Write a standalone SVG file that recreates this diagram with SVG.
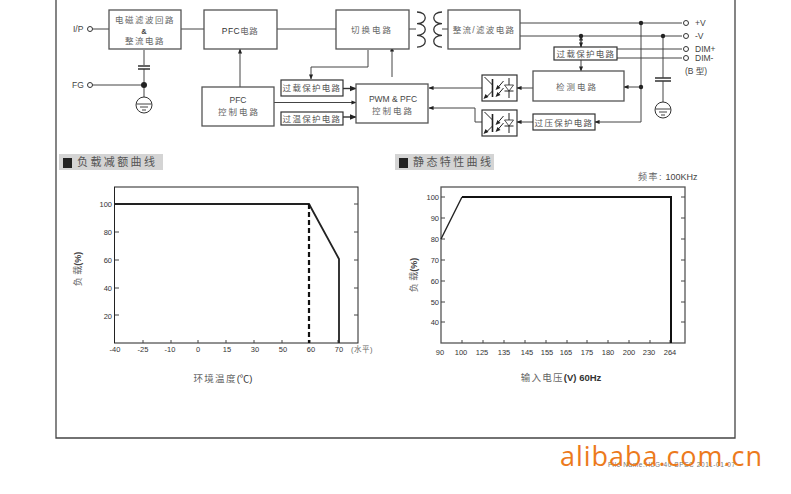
<svg xmlns="http://www.w3.org/2000/svg" width="791" height="494" viewBox="0 0 791 494">
<style>
text{font-family:"Liberation Sans","Noto Sans CJK SC",sans-serif;fill:#444;font-size:8.5px}
.c{text-anchor:middle}
.z{font-size:8.5px;letter-spacing:2px;fill:#666}
.s{font-size:8.500px;letter-spacing:1.300px;fill:#555}
.b{fill:#fff;stroke:#555;stroke-width:1.300}
.p{fill:#fff;stroke:#333;stroke-width:1.200}
.l{fill:none;stroke:#444;stroke-width:1}
.m{fill:none;stroke:#333;stroke-width:1.400}
.o{fill:#fff;stroke:#333;stroke-width:1}
.d{fill:#222}
.t text{font-size:7.500px;fill:#333;text-anchor:middle}
.y text{font-size:7.500px;fill:#333;text-anchor:end}
.h{font-size:11px;letter-spacing:2.400px;fill:#555}
.hb{fill:#d4d4d4}
.coil{fill:none;stroke:#333;stroke-width:1.300}
</style>
<defs>
<marker id="a" viewBox="0 0 6 6" refX="5.500" refY="3" markerWidth="5" markerHeight="5" orient="auto"><path d="M0 .5L6 3L0 5.500Z" fill="#222"/></marker>
<g id="gnd"><circle r="8" fill="#fff" stroke="#333"/><path d="M-7.500-1H7.500M-4 2H4M-2 5H2" class="l"/></g>
<g id="opto"><rect x="-17.500" y="-13" width="35" height="26" class="p"/>
<path d="M-7-9V9" fill="none" stroke="#222" stroke-width="1.600"/>
<path d="M-15-11L-7-3M-7 3L-14 10M4-7L-2 0M4 0L-2 7M9.500-10V10M5 3H14" fill="none" stroke="#222" stroke-width="1"/>
<path d="M5-3H14L9.500 3Z" fill="#fff" stroke="#222" stroke-width=".8"/>
<path d="M-16 11L-14 6L-11 9ZM-4 2L-2-3L1 0ZM-4 9L-2 4L1 7Z" fill="#222"/></g>
</defs>
<rect width="791" height="494" fill="#fff"/>
<path d="M56 0V438H735V0" fill="none" stroke="#444" stroke-width="1.300"/>
<g id="connectors">
<path class="l" d="M92 29H109M181 29H204M277 29H336M409 29H416M442 29H448"/>
<path class="l" d="M92 85H144M144 50V65M144 69V97"/>
<path class="m" d="M138 66H150M138 69H150M655 78H671M655 81H671"/>
<path class="l" d="M240 87V49" marker-end="url(#a)"/>
<path class="l" d="M368 50V67H311V79" marker-end="url(#a)"/>
<path class="l" d="M392 77V47" marker-end="url(#a)"/>
<path class="m" d="M343 88.500H356" marker-end="url(#a)"/>
<path class="m" d="M343 117H356" marker-end="url(#a)"/>
<path class="l" d="M274 102.500H356" marker-end="url(#a)"/>
<path class="l" d="M520 23H682M520 36H682M641 23V122M663 36V78M663 81V102M617 49H682M617 58H682"/>
<path class="l" d="M581 47V36" marker-end="url(#a)"/>
<path class="l" d="M581 36V47" marker-end="url(#a)"/>
<path class="l" d="M581 60V71" marker-end="url(#a)"/>
<path class="l" d="M641 87H624" marker-end="url(#a)"/>
<path class="l" d="M533 88H517" marker-end="url(#a)"/>
<path class="l" d="M482 88H429" marker-end="url(#a)"/>
<path class="l" d="M533 122H517" marker-end="url(#a)"/>
<path class="l" d="M641 122H595" marker-end="url(#a)"/>
<path class="l" d="M482 122H475V108H429" marker-end="url(#a)"/>
<path class="coil" d="M417 12c11 0 11 11.700 0 11.700c11 0 11 11.700 0 11.700c11 0 11 11.700 0 11.700"/>
<path class="coil" d="M442 12c-11 0-11 11.700 0 11.700c-11 0-11 11.700 0 11.700c-11 0-11 11.700 0 11.700"/>
<g class="d"><circle cx="144" cy="85" r="3"/><circle cx="581" cy="36" r="2.200"/><circle cx="641" cy="23" r="2.200"/><circle cx="641" cy="87" r="2.200"/><circle cx="663" cy="36" r="2.200"/></g>
<use href="#gnd" x="144" y="105"/><use href="#gnd" x="663" y="110"/>
</g>
<g id="ports">
<g class="o"><circle cx="90" cy="29" r="2.500"/><circle cx="90" cy="85" r="2.500"/><circle cx="686" cy="23" r="2.500"/><circle cx="686" cy="36" r="2.500"/><circle cx="686" cy="49" r="2.500"/><circle cx="686" cy="58" r="2.500"/></g>
<text x="73" y="32">I/P</text><text x="72" y="88">FG</text>
<text x="695" y="26">+V</text><text x="695" y="39">-V</text><text x="695" y="52">DIM+</text><text x="695" y="61">DIM-</text><text x="685" y="74">(B 型)</text>
</g>
<g id="n1"><rect class="b" x="109" y="10" width="72" height="39"/><text class="c z" x="145" y="23" style="letter-spacing:1.500px">电磁滤波回路</text><text class="c" x="144" y="34" style="font-weight:bold;font-size:7.500px">&amp;</text><text class="c z" x="145" y="44" style="letter-spacing:1.500px">整流电路</text></g>
<g id="n2"><rect class="b" x="204" y="10" width="73" height="39"/><text class="c z" x="240" y="34" style="letter-spacing:.5px"><tspan style="fill:#333">PFC</tspan>电路</text></g>
<g id="n3"><rect class="b" x="336" y="10" width="73" height="39"/><text class="c z" x="372" y="33">切换电路</text></g>
<g id="n4"><rect class="b" x="448" y="10" width="72" height="39"/><text class="c z" x="484" y="33" style="letter-spacing:1.300px">整流/滤波电路</text></g>
<g id="n5"><rect class="b" x="202" y="87" width="72" height="39"/><text class="c" x="238" y="103">PFC</text><text class="c z" x="239" y="115">控制电路</text></g>
<g id="n6"><rect class="p" x="281" y="80" width="62" height="16"/><text class="c s" x="312" y="91">过载保护电路</text></g>
<g id="n7"><rect class="p" x="281" y="112" width="62" height="13"/><text class="c s" x="312" y="121.500">过温保护电路</text></g>
<g id="n8"><rect class="b" x="356" y="84" width="72" height="39"/><text class="c" x="393" y="102">PWM &amp; PFC</text><text class="c z" x="393" y="114">控制电路</text></g>
<g id="n9"><rect class="p" x="554" y="47" width="63" height="13"/><text class="c s" x="586" y="57">过载保护电路</text></g>
<g id="n10"><rect class="b" x="533" y="71" width="91" height="30"/><text class="c z" x="577" y="90">检测电路</text></g>
<g id="n11"><rect class="p" x="533" y="114" width="62" height="16"/><text class="c s" x="564" y="126">过压保护电路</text></g>
<use id="n12" href="#opto" x="499.500" y="88"/><use id="n13" href="#opto" x="499.500" y="123"/>
<g id="chart1">
<rect x="59" y="154" width="104" height="16" class="hb"/><rect x="63" y="158" width="9" height="10" fill="#222"/><text class="h" x="77" y="166">负载减额曲线</text>
<rect x="114.500" y="187" width="243.500" height="156" fill="#fff" stroke="#222" stroke-width="1"/>
<path class="l" d="M115 204h4M115 232h4M115 260h4M115 288h4M115 315h4M354 204h4M354 232h4M354 260h4M354 288h4M354 315h4M143 343v-3M171 343v-3M198 343v-3M226 343v-3M254 343v-3M282 343v-3M310 343v-3M338 343v-3"/>
<path d="M115 204H309L339 259V343" fill="none" stroke="#222" stroke-width="1.800"/><path d="M309 204V343" stroke="#111" stroke-width="2.200" stroke-dasharray="5 3"/>
<g class="y"><text x="112" y="207">100</text><text x="112" y="235">80</text><text x="112" y="263">60</text><text x="112" y="291">40</text><text x="112" y="319">20</text></g>
<g class="t"><text x="115" y="352">-40</text><text x="143" y="352">-25</text><text x="170" y="352">-10</text><text x="198" y="352">0</text><text x="227" y="352">15</text><text x="255" y="352">30</text><text x="283" y="352">50</text><text x="311" y="352">60</text><text x="339" y="352">70</text><text x="362" y="352" style="fill:#666;letter-spacing:.5px">(水平)</text></g>
<text class="c" transform="translate(81 269) rotate(-90)" style="font-size:9px;fill:#666">负 载<tspan style="font-weight:bold;fill:#444">(%)</tspan></text>
<text class="c" x="223" y="382" style="font-size:9.500px;letter-spacing:1.300px;fill:#666">环境温度<tspan style="fill:#333;letter-spacing:0">(℃)</tspan></text>
</g>
<g id="chart2">
<rect x="395" y="154" width="99" height="16" class="hb"/><rect x="399" y="158" width="9" height="10" fill="#222"/><text class="h" x="413" y="166">静态特性曲线</text>
<text x="638" y="180" style="font-size:9px"><tspan style="fill:#666;letter-spacing:1.500px">频率:</tspan> 100KHz</text>
<rect x="441" y="187" width="244" height="156" fill="#fff" stroke="#555" stroke-width="1.300"/>
<path class="l" d="M441 197h4M441 218h4M441 239h4M441 260h4M441 281h4M441 302h4M441 322h4M681 197h4M681 218h4M681 239h4M681 260h4M681 281h4M681 302h4M681 322h4M462 343v-3M483 343v-3M504 343v-3M525 343v-3M546 343v-3M567 343v-3M587 343v-3M608 343v-3M629 343v-3M650 343v-3M670 343v-3"/>
<path d="M441 239L462 197" fill="none" stroke="#222" stroke-width="1.400"/><path d="M462 197H671V343" fill="none" stroke="#111" stroke-width="2"/>
<g class="y"><text x="439" y="200">100</text><text x="439" y="221">90</text><text x="439" y="242">80</text><text x="439" y="263">70</text><text x="439" y="284">60</text><text x="439" y="305">50</text><text x="439" y="325">40</text></g>
<g class="t"><text x="440" y="355">90</text><text x="461" y="355">100</text><text x="482" y="355">125</text><text x="504" y="355">135</text><text x="527" y="355">145</text><text x="547" y="355">155</text><text x="566" y="355">165</text><text x="587" y="355">175</text><text x="608" y="355">180</text><text x="629" y="355">200</text><text x="649" y="355">230</text><text x="670" y="355">264</text></g>
<text class="c" transform="translate(417 275) rotate(-90)" style="font-size:9px;fill:#666">负 载<tspan style="font-weight:bold;fill:#444">(%)</tspan></text>
<text class="c" x="561" y="381" style="font-size:9.500px;letter-spacing:1.300px;fill:#666">输入电压<tspan style="font-weight:bold;letter-spacing:0;fill:#333">(V) 60Hz</tspan></text>
</g>
<text x="608" y="467" textLength="127" lengthAdjust="spacing" style="font-size:6.500px;fill:#777">File Name:HLG-40 SPEC 2011-01-07</text>
<text x="560" y="466" textLength="202" lengthAdjust="spacing" style="font-family:'Open Sans','Noto Sans',sans-serif;font-size:27px;font-weight:500;fill:#ec7a1c">alibaba.com.cn</text>
</svg>
